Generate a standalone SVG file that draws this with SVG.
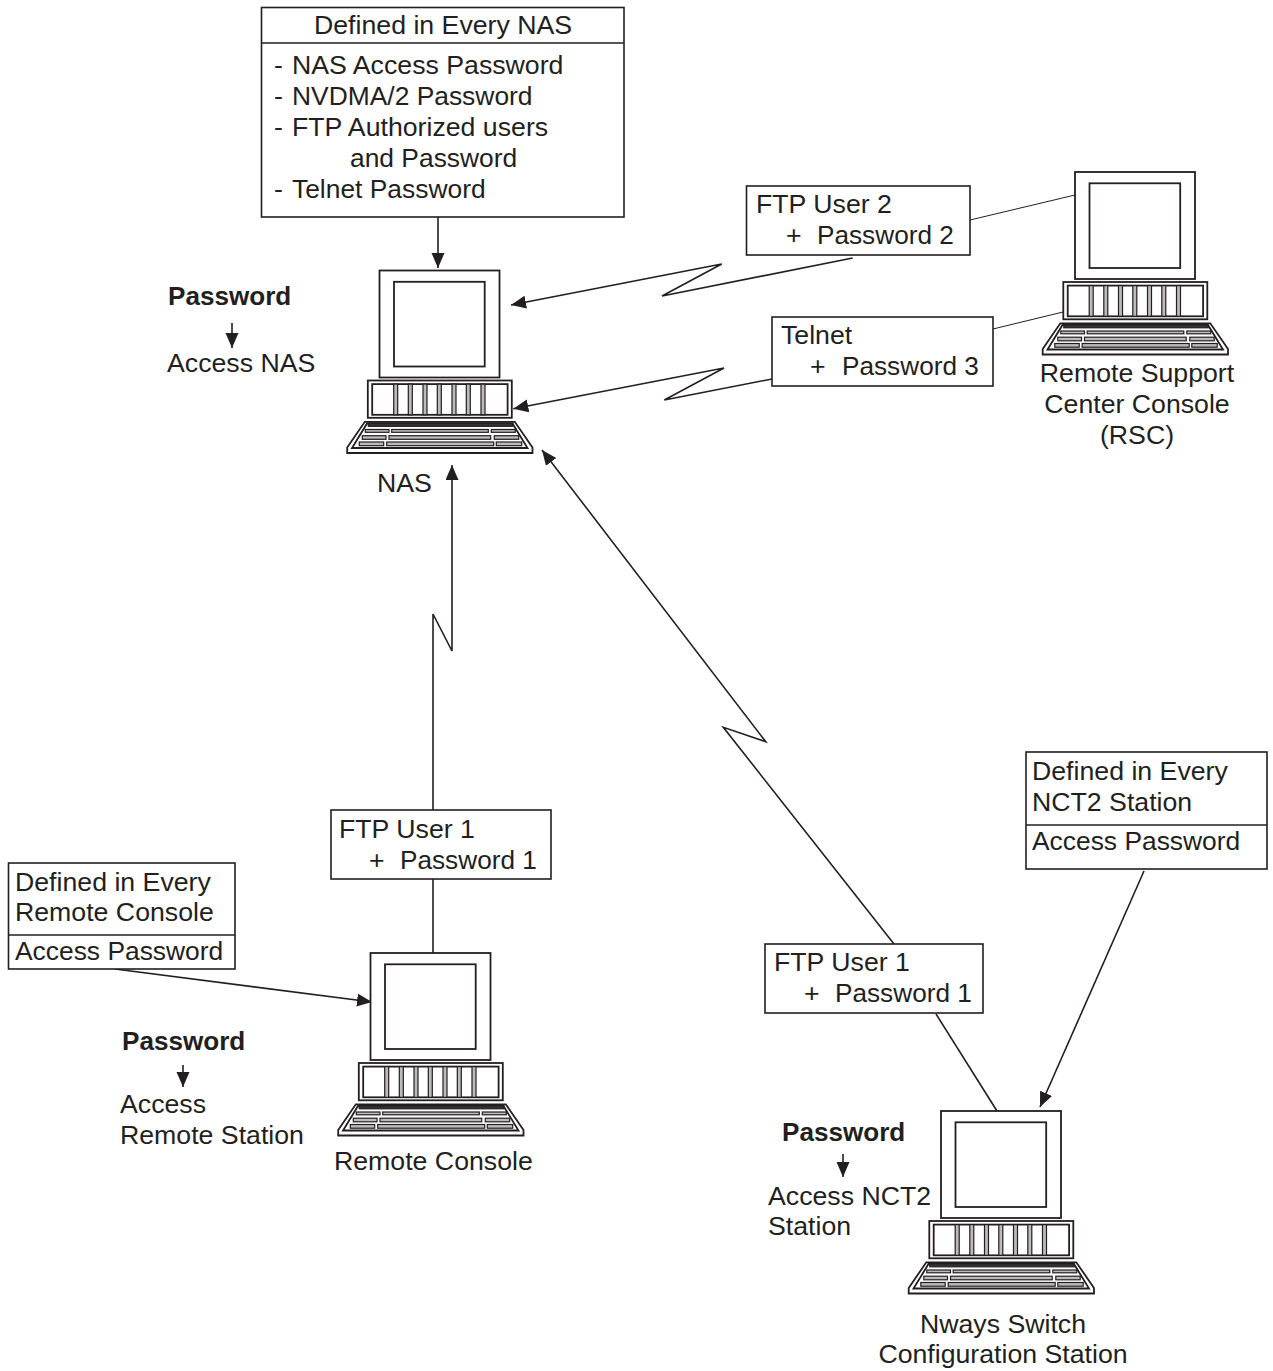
<svg xmlns="http://www.w3.org/2000/svg" width="1273" height="1371" viewBox="0 0 1273 1371">
<style>
text{font-family:"Liberation Sans",Arial,sans-serif;font-size:26.7px;fill:#231f20}
.b{font-weight:bold;font-size:26.1px}
.p{font-size:26.2px}
.q{font-size:26.4px}
.box{fill:#fff;stroke:#231f20;stroke-width:1.6}
.ln{fill:none;stroke:#231f20;stroke-width:1.6}
.thin{fill:none;stroke:#231f20;stroke-width:1}
.c{fill:#fff;stroke:#231f20;stroke-width:1.8}
.k{fill:#bbb;stroke:#231f20;stroke-width:1.2}
.m{text-anchor:middle}
</style>
<defs>
<marker id="a" markerUnits="userSpaceOnUse" markerWidth="16" markerHeight="14" refX="15" refY="6.5" orient="auto"><path d="M0,0L15,6.5L0,13z" fill="#231f20"/></marker>
<g id="pc">
<rect class="c" x="0" y="0" width="120" height="107"/>
<rect class="c" x="14.500" y="11.300" width="90.700" height="84.700"/>
<rect class="c" x="-11.700" y="110" width="144" height="37.300"/>
<rect class="c" x="-7.300" y="113.600" width="135.400" height="30.700"/>
<g class="k">
<rect x="14.200" y="113.600" width="4" height="30.700"/><rect x="28.800" y="113.600" width="4" height="30.700"/><rect x="43.500" y="113.600" width="4" height="30.700"/><rect x="57.800" y="113.600" width="4" height="30.700"/><rect x="72.500" y="113.600" width="4" height="30.700"/><rect x="86.800" y="113.600" width="4" height="30.700"/><rect x="101.500" y="113.600" width="4" height="30.700"/>
</g>
<path class="c" d="M-14.700,151.300H135.300L153,177V182.500H-32.300V177Z"/>
<path class="c" d="M-12.500,153H133L148,177.500H-27.500Z"/>
<g class="k">
<rect x="-11.200" y="152.800" width="144.400" height="3" fill="#333"/>
<rect x="-14.200" y="159" width="23.700" height="2.800"/><rect x="12.200" y="159" width="96.600" height="2.800"/><rect x="111.800" y="159" width="24" height="2.800"/>
<rect x="-17.200" y="165.200" width="23.700" height="3.600"/><rect x="9.500" y="165.200" width="101.700" height="3.600"/><rect x="114.800" y="165.200" width="24.400" height="3.600"/>
<rect x="-20.200" y="171.500" width="24.400" height="3.700"/><rect x="7.200" y="171.500" width="107" height="3.700"/><rect x="116.800" y="171.500" width="25.400" height="3.700"/>
</g>
</g>
</defs>
<g id="connectors">
<path class="ln" marker-end="url(#a)" d="M438,217V268"/>
<path class="ln" marker-end="url(#a)" d="M852.700,258L662,296L721.700,264L511,305"/>
<path class="ln" marker-end="url(#a)" d="M772,379L664.300,400L724,368L513.300,408.700"/>
<path class="thin" d="M970,220L1075,195"/>
<path class="thin" d="M993,329L1063,312"/>
<path class="ln" d="M433,953V879"/>
<path class="ln" marker-end="url(#a)" d="M433,810V614L452,651V465"/>
<path class="ln" d="M997,1111L936,1014"/>
<path class="ln" marker-end="url(#a)" d="M894,944L723.300,727.300L765.700,741.700L542,450"/>
<path class="ln" marker-end="url(#a)" d="M1144,871L1040,1107"/>
<path class="ln" marker-end="url(#a)" d="M115,969L372,1002"/>
<path class="ln" marker-end="url(#a)" d="M232,323V348"/>
<path class="ln" marker-end="url(#a)" d="M183,1065V1087"/>
<path class="ln" marker-end="url(#a)" d="M843,1154V1177"/>
</g>
<g id="nas"><use href="#pc" x="379.500" y="270.500"/><text x="377" y="492">NAS</text></g>
<g id="rsc"><use href="#pc" x="1075" y="172"/><text class="m" x="1137" y="382">Remote Support</text><text class="m" x="1137" y="413">Center Console</text><text class="m" x="1137" y="444">(RSC)</text></g>
<g id="remote-console"><use href="#pc" x="370.500" y="953"/><text x="334" y="1170">Remote Console</text></g>
<g id="nways"><use href="#pc" x="941" y="1111"/><text class="m" x="1003" y="1333">Nways Switch</text><text class="m" x="1003" y="1363">Configuration Station</text></g>
<g id="defined-nas">
<rect class="box" x="261.500" y="7.500" width="362.500" height="209.500"/>
<path class="ln" d="M261.500,43H624"/>
<text x="314" y="34">Defined in Every NAS</text>
<text x="274" y="74">-<tspan x="292">NAS Access Password</tspan></text>
<text x="274" y="105">-<tspan x="292" class="q">NVDMA/2 Password</tspan></text>
<text x="274" y="136">-<tspan x="292">FTP Authorized users</tspan></text>
<text class="q" x="350" y="167">and Password</text>
<text x="274" y="198">-<tspan x="292" class="q">Telnet Password</tspan></text>
</g>
<g id="ftp-user-2"><rect class="box" x="746.500" y="186" width="223.500" height="69"/><text x="756" y="213">FTP User 2</text><text x="786" y="244">+<tspan x="817" class="p">Password 2</tspan></text></g>
<g id="telnet"><rect class="box" x="772" y="317" width="221" height="69"/><text x="781" y="344">Telnet</text><text x="810" y="375">+<tspan x="842" class="p">Password 3</tspan></text></g>
<g id="ftp-user-1-remote"><rect class="box" x="331" y="810" width="220" height="69"/><text x="339" y="838">FTP User 1</text><text x="369" y="869">+<tspan x="400" class="p">Password 1</tspan></text></g>
<g id="ftp-user-1-nways"><rect class="box" x="765" y="944" width="218" height="69"/><text x="774" y="971">FTP User 1</text><text x="804" y="1002">+<tspan x="835" class="p">Password 1</tspan></text></g>
<g id="defined-remote"><rect class="box" x="8.500" y="863" width="226.500" height="106"/><path class="ln" d="M8.500,935H235"/><text x="15" y="891">Defined in Every</text><text x="15" y="921">Remote Console</text><text class="q" x="15" y="960">Access Password</text></g>
<g id="defined-nct2"><rect class="box" x="1026" y="752" width="241" height="117"/><path class="ln" d="M1026,825H1267"/><text x="1032" y="780">Defined in Every</text><text x="1032" y="811">NCT2 Station</text><text class="q" x="1032" y="850">Access Password</text></g>
<g id="note-nas"><text class="b" x="168" y="305">Password</text><text x="167" y="372">Access NAS</text></g>
<g id="note-remote"><text class="b" x="122" y="1050">Password</text><text x="120" y="1113">Access</text><text x="120" y="1144">Remote Station</text></g>
<g id="note-nct2"><text class="b" x="782" y="1141">Password</text><text x="768" y="1205">Access NCT2</text><text x="768" y="1235">Station</text></g>
</svg>
